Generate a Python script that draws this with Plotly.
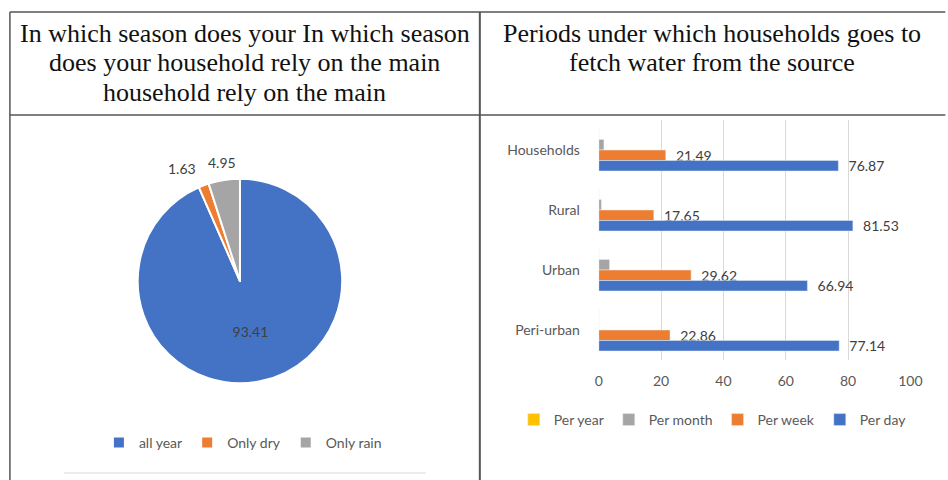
import math
import plotly.graph_objects as go

# Season reliance on the main source (pie)
season_labels = ["all year", "Only dry", "Only rain"]
season_values = [93.41, 1.63, 4.95]
season_colors = ["#4472C4", "#ED7D31", "#A5A5A5"]

# Frequency of water fetching by area (clustered bars)
areas = ["Households", "Rural", "Urban", "Peri-urban"]
per_year = [0.0, 0.0, 0.0, 0.0]
per_month = [1.64, 0.82, 3.44, 0.0]
per_week = [21.49, 17.65, 29.62, 22.86]
per_day = [76.87, 81.53, 66.94, 77.14]
x_ticks = [0, 20, 40, 60, 80, 100]

header_left = ["In which season does your In which season",
               "does your household rely on the main",
               "household rely on the main"]
header_right = ["Periods under which households goes to",
                "fetch water from the source"]

W, H = 948, 480
sans = "Lato, 'Liberation Sans', sans-serif"
serif = "'Liberation Serif', 'DejaVu Serif', serif"
label_grey = "#404040"
axis_grey = "#595959"


def px(x):
    return x / W


def py(y):
    return 1 - y / H


# pie geometry (pixels)
pie_cx, pie_cy, pie_r = 240, 281, 103

fig = go.Figure()

fig.add_trace(go.Pie(
    labels=season_labels, values=season_values,
    marker=dict(colors=season_colors, line=dict(color="white", width=2)),
    sort=False, direction="clockwise", rotation=0,
    texttemplate="%{value}",
    textposition=["inside", "none", "none"],
    insidetextfont=dict(family=sans, size=14, color=label_grey),
    domain=dict(x=[px(pie_cx - 104), px(pie_cx + 104)], y=[py(pie_cy + 104), py(pie_cy - 104)]),
    legend="legend2", hoverinfo="label+value",
))

series = [
    ("Per year", per_year, "#FFC000", False),
    ("Per month", per_month, "#A5A5A5", False),
    ("Per week", per_week, "#ED7D31", True),
    ("Per day", per_day, "#4472C4", True),
]
for name, vals, color, labelled in series:
    fig.add_trace(go.Bar(
        name=name, y=areas, x=vals, orientation="h",
        marker=dict(color=color),
        text=[f"\u00a0\u00a0{v:.2f}" for v in vals] if labelled else None,
        textposition="outside" if labelled else "none",
        textfont=dict(family=sans, size=14, color=label_grey),
        constraintext="none", cliponaxis=False,
        xaxis="x", yaxis="y", legend="legend",
    ))

# Table rules
line = dict(color="#555555", width=1.5)
shapes = [
    dict(type="line", xref="paper", yref="paper", x0=px(6), x1=1.01, y0=py(12), y1=py(12), line=line),
    dict(type="line", xref="paper", yref="paper", x0=px(6), x1=1.01, y0=py(115), y1=py(115), line=line),
    dict(type="line", xref="paper", yref="paper", x0=px(6), x1=px(6), y0=py(12), y1=-0.01, line=line),
    dict(type="line", xref="paper", yref="paper", x0=px(484), x1=px(484), y0=py(12), y1=-0.01,
         line=dict(color="#555555", width=2)),
    dict(type="line", xref="paper", yref="paper", x0=px(61), x1=px(429), y0=py(473), y1=py(473),
         line=dict(color="#d9d9d9", width=1)),
]

annotations = []
for i, t in enumerate(header_left):
    annotations.append(dict(text=t, x=px(245), y=py(34 + 29 * i), xref="paper", yref="paper",
                            showarrow=False, xanchor="center", yanchor="middle",
                            font=dict(family=serif, size=26, color="#111111")))
for i, t in enumerate(header_right):
    annotations.append(dict(text=t, x=px(720), y=py(34 + 29 * i), xref="paper", yref="paper",
                            showarrow=False, xanchor="center", yanchor="middle",
                            font=dict(family=serif, size=26, color="#111111")))

# Outside labels for the two thin slices, placed at each slice's mid-angle
total = sum(season_values)
cum = 0.0
for i, v in enumerate(season_values):
    mid = (cum + v / 2) / total
    cum += v
    if i == 0:
        continue
    theta = 2 * math.pi * mid
    r = pie_r + 17
    lx = pie_cx + r * math.sin(theta)
    ly = pie_cy - r * math.cos(theta)
    annotations.append(dict(text=f"{v}", x=px(lx), y=py(ly), xref="paper", yref="paper",
                            showarrow=False, xanchor="right" if i == 1 else "center",
                            yanchor="middle",
                            font=dict(family=sans, size=14, color=label_grey)))

fig.update_layout(
    width=W, height=H, margin=dict(l=0, r=0, t=0, b=0),
    paper_bgcolor="white", plot_bgcolor="white",
    barmode="group", bargap=0.3, bargroupgap=0,
    shapes=shapes, annotations=annotations,
    xaxis=dict(domain=[px(605), px(922)], range=[0, 100], tickvals=x_ticks,
               showgrid=True, gridcolor="#d9d9d9", gridwidth=1, zeroline=False,
               showline=False, ticks="", ticklabelstandoff=11,
               tickfont=dict(family=sans, size=14, color=axis_grey), fixedrange=True),
    yaxis=dict(domain=[py(360), py(120)], autorange="reversed", showgrid=False,
               showline=False, ticks="", ticklabelstandoff=18,
               tickfont=dict(family=sans, size=14, color=axis_grey), fixedrange=True),
    legend=dict(orientation="h", x=px(721), y=py(420), xanchor="center", yanchor="middle",
                font=dict(family=sans, size=14, color=axis_grey), itemwidth=30,
                traceorder="normal", bgcolor="rgba(0,0,0,0)"),
    legend2=dict(orientation="h", x=px(243), y=py(443), xanchor="center", yanchor="middle",
                 font=dict(family=sans, size=14, color=axis_grey), itemwidth=30,
                 bgcolor="rgba(0,0,0,0)"),
    showlegend=True,
)

fig.write_html("out.html")
